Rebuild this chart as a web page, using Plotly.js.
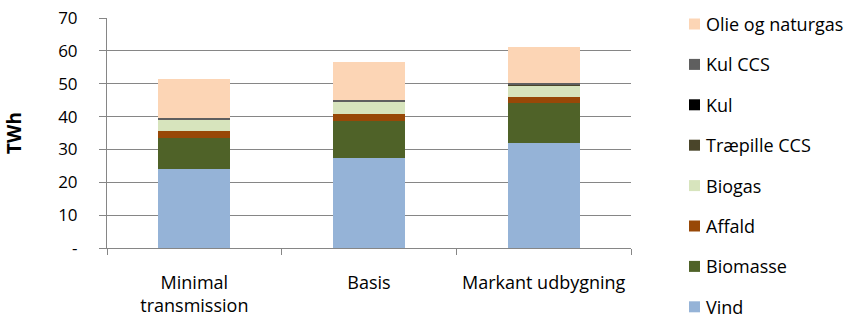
<!DOCTYPE html>
<html>
<head>
<meta charset="utf-8">
<script src="https://cdn.plot.ly/plotly-3.0.1.min.js"></script>
<style>
  html, body { margin: 0; padding: 0; background: #fff; }
  #chart { width: 847px; height: 321px; }
</style>
</head>
<body>
<div id="chart"></div>
<script>
// Scenarios on the x axis
const scenarios = ['Minimal<br>transmission', 'Basis', 'Markant udbygning'];

// Electricity production by source (TWh), bottom of the stack first
const seriesNames = ['Vind', 'Biomasse', 'Affald', 'Biogas', 'Træpille CCS', 'Kul', 'Kul CCS', 'Olie og naturgas'];
const vind        = [24.0, 27.5, 32.1];
const biomasse    = [9.6, 11.3, 11.9];
const affald      = [2.1, 2.0, 2.0];
const biogas      = [3.3, 3.5, 3.4];
const traepilleCCS = [0.1, 0.1, 0.1];
const kul         = [0.0, 0.0, 0.0];
const kulCCS      = [0.6, 0.7, 0.7];
const olieGas     = [11.8, 11.4, 11.0];
const seriesValues = [vind, biomasse, affald, biogas, traepilleCCS, kul, kulCCS, olieGas];
const seriesColors = ['#95B3D7', '#4F6228', '#984807', '#D7E4BD', '#4A452A', '#000000', '#5F5F5F', '#FCD5B5'];

// Y axis ticks
const yTickVals = [0, 10, 20, 30, 40, 50, 60, 70];
const yTickText = ['-', '10', '20', '30', '40', '50', '60', '70'];

const FONT = 'Open Sans, Noto Sans, sans-serif';
const W = 847, H = 321;
const M = { l: 107, r: 216, t: 18, b: 73 };
const plotW = W - M.l - M.r, plotH = H - M.t - M.b;

const traces = seriesNames.map((name, i) => ({
  type: 'bar',
  name: name,
  x: scenarios,
  y: seriesValues[i],
  marker: { color: seriesColors[i], line: { width: 0 } },
  showlegend: false,
  hoverinfo: 'x+y+name'
}));

// Legend on the right, listed top-down from the top of the stack
const shapes = [];
const annotations = [];
const legendTop = 24, legendStep = 40.4;
const swatchX = 689, swatchSize = 11, textX = 705;
for (let k = 0; k < seriesNames.length; k++) {
  const i = seriesNames.length - 1 - k;
  const cy = legendTop + k * legendStep;
  shapes.push({
    type: 'rect', xref: 'paper', yref: 'paper',
    x0: (swatchX - M.l) / plotW, x1: (swatchX + swatchSize - M.l) / plotW,
    y0: (H - M.b - (cy + swatchSize / 2)) / plotH, y1: (H - M.b - (cy - swatchSize / 2)) / plotH,
    fillcolor: seriesColors[i], line: { width: 0 }
  });
  annotations.push({
    xref: 'paper', yref: 'paper',
    x: (textX - M.l) / plotW, y: (H - M.b - cy) / plotH,
    xanchor: 'left', yanchor: 'middle', showarrow: false,
    borderpad: 0,
    text: seriesNames[i],
    font: { family: FONT, size: 18, color: '#000' }
  });
}

const layout = {
  width: W, height: H,
  margin: M,
  barmode: 'stack',
  bargap: 0.587,
  paper_bgcolor: '#fff',
  plot_bgcolor: '#fff',
  font: { family: FONT, size: 18, color: '#000' },
  xaxis: {
    type: 'category',
    tickson: 'boundaries',
    ticks: 'outside', ticklen: 6, tickcolor: '#868686', tickwidth: 1,
    showline: true, linecolor: '#868686', linewidth: 1,
    showgrid: false,
    ticklabelstandoff: 18,
    tickfont: { family: FONT, size: 18, color: '#000' },
    fixedrange: true
  },
  yaxis: {
    range: [0, 70],
    tickvals: yTickVals, ticktext: yTickText,
    ticks: 'outside', ticklen: 7, tickcolor: '#868686', tickwidth: 1,
    showline: true, linecolor: '#868686', linewidth: 1,
    showgrid: true, gridcolor: '#868686', gridwidth: 1,
    zeroline: false,
    ticklabelstandoff: 18,
    tickfont: { family: FONT, size: 17, color: '#000' },
    title: { text: '<b>TWh</b>', standoff: 31, font: { family: FONT, size: 19, color: '#000' } },
    fixedrange: true
  },
  shapes: shapes,
  annotations: annotations
};

Plotly.newPlot('chart', traces, layout, { displayModeBar: false, staticPlot: true });
</script>
</body>
</html>
